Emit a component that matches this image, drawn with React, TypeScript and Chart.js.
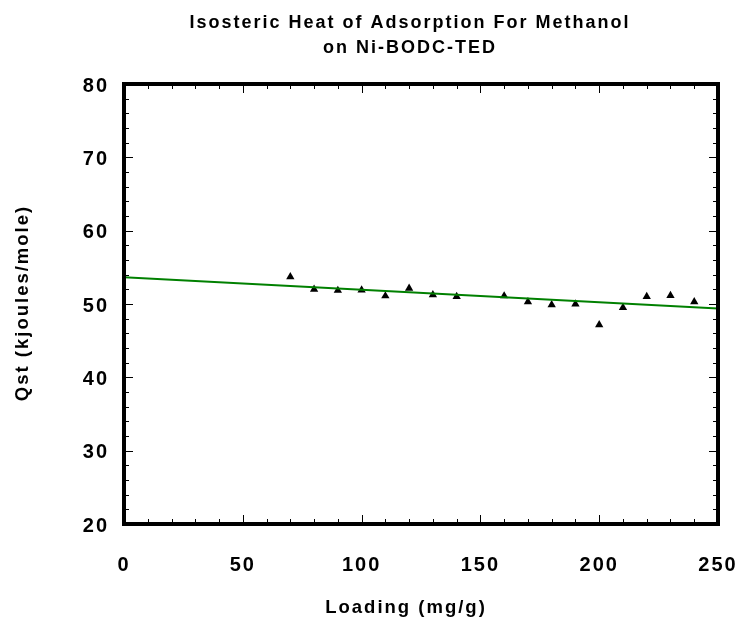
import React, { useEffect, useRef } from 'react';
import { Chart, registerables } from 'chart.js';

Chart.register(...registerables);

const titleLines = ['Isosteric Heat of Adsorption For Methanol', 'on Ni-BODC-TED'];
const xTitle = 'Loading (mg/g)';
const yTitle = 'Qst (kjoules/mole)';

const loading = [70, 80, 90, 100, 110, 120, 130, 140, 160, 170, 180, 190, 200, 210, 220, 230, 240];
const qst = [53.7, 52.0, 51.85, 51.9, 51.1, 52.15, 51.25, 51.0, 51.1, 50.3, 49.9, 50.0, 47.15, 49.5, 51.0, 51.15, 50.3];

const fitX = [0, 250];
const fitY = [53.65, 49.4];

const xMin = 0, xMax = 250, xMajor = 50, xMinor = 10;
const yMin = 20, yMax = 80, yMajor = 10, yMinor = 2;

const FONT = "'Liberation Sans', Arial, Helvetica, sans-serif";
const TITLE_CENTER_X = 410;
const X_TITLE_POS = { x: 405, y: 608 };
const Y_TITLE_POS = { x: 23, y: 304 };

const spacingPlugin = {
  id: 'letterSpacing',
  afterInit(chart: any) {
    chart.ctx.letterSpacing = '2px';
  },
  beforeUpdate(chart: any) {
    chart.ctx.letterSpacing = '2px';
  },
  afterLayout(chart: any) {
    const tb = chart.titleBlock;
    if (tb) {
      tb.left = 0;
      tb.right = TITLE_CENTER_X * 2;
    }
  },
  beforeDraw(chart: any) {
    chart.ctx.letterSpacing = '2px';
  },
};

const framePlugin = {
  id: 'frameTicks',
  afterDraw(chart: any) {
    const { ctx, chartArea } = chart;
    const { left, right, top, bottom } = chartArea;
    const xs = chart.scales.x;
    const ys = chart.scales.y;
    ctx.save();
    ctx.strokeStyle = '#000';
    ctx.lineWidth = 1;
    ctx.beginPath();
    for (let v = xMin; v <= xMax + 1e-9; v += xMinor) {
      const px = Math.round(xs.getPixelForValue(v)) + 0.5;
      const len = Math.abs(v % xMajor) < 1e-9 ? 9 : 5;
      ctx.moveTo(px, bottom);
      ctx.lineTo(px, bottom - len);
      ctx.moveTo(px, top);
      ctx.lineTo(px, top + len);
    }
    for (let v = yMin; v <= yMax + 1e-9; v += yMinor) {
      const py = Math.round(ys.getPixelForValue(v)) + 0.5;
      const len = Math.abs((v - yMin) % yMajor) < 1e-9 ? 9 : 5;
      ctx.moveTo(left, py);
      ctx.lineTo(left + len, py);
      ctx.moveTo(right, py);
      ctx.lineTo(right - len, py);
    }
    ctx.stroke();
    ctx.lineWidth = 4;
    ctx.strokeRect(left, top, right - left, bottom - top);

    // axis titles
    ctx.fillStyle = '#000';
    ctx.font = `bold 18.5px ${FONT}`;
    ctx.textAlign = 'center';
    ctx.textBaseline = 'middle';
    ctx.fillText(xTitle, X_TITLE_POS.x + 1, X_TITLE_POS.y);
    ctx.translate(Y_TITLE_POS.x, Y_TITLE_POS.y);
    ctx.rotate(-Math.PI / 2);
    ctx.fillText(yTitle, 1, 0);
    ctx.restore();
  },
};

export default function App() {
  const ref = useRef<HTMLCanvasElement | null>(null);
  useEffect(() => {
    if (!ref.current) return;
    const chart = new Chart(ref.current, {
      type: 'scatter',
      data: {
        datasets: [
          {
            type: 'line',
            label: 'Fit',
            data: fitX.map((x, i) => ({ x, y: fitY[i] })),
            borderColor: '#008000',
            borderWidth: 2,
            pointRadius: 0,
            fill: false,
          },
          {
            label: 'Qst',
            data: loading.map((x, i) => ({ x, y: qst[i] })),
            pointStyle: 'triangle',
            pointRadius: 4.8,
            backgroundColor: '#000',
            borderColor: '#000',
            borderWidth: 0,
          },
        ],
      },
      options: {
        animation: false,
        responsive: false,
        maintainAspectRatio: false,
        layout: { padding: { left: 0, right: 25, top: 0, bottom: 0 } },
        plugins: {
          legend: { display: false },
          tooltip: { enabled: false },
          title: {
            display: true,
            text: titleLines,
            color: '#000',
            font: { family: FONT, size: 18, weight: 'bold', lineHeight: 25 / 18 },
            padding: { top: 11, bottom: 23 },
          },
        },
        scales: {
          x: {
            type: 'linear',
            min: xMin,
            max: xMax,
            grid: { display: false, drawTicks: false },
            border: { display: false },
            ticks: {
              stepSize: xMajor,
              color: '#000',
              padding: 29,
              font: { family: FONT, size: 20, weight: 'bold' },
            },
            title: { display: false, text: xTitle },
            afterFit(scale: any) {
              scale.height = 99;
              scale.paddingLeft = 0;
              scale.paddingRight = 0;
            },
          },
          y: {
            type: 'linear',
            min: yMin,
            max: yMax,
            grid: { display: false, drawTicks: false },
            border: { display: false },
            ticks: {
              stepSize: yMajor,
              color: '#000',
              padding: 15,
              labelOffset: 2,
              font: { family: FONT, size: 20, weight: 'bold' },
            },
            title: { display: false, text: yTitle },
            afterFit(scale: any) {
              scale.width = 124;
              scale.paddingTop = 0;
              scale.paddingBottom = 0;
            },
          },
        },
      },
      plugins: [spacingPlugin, framePlugin],
    });
    return () => chart.destroy();
  }, []);
  return (
    <div style={{ position: 'fixed', left: 0, top: 0, width: 743, height: 623, background: '#fff' }}>
      <canvas ref={ref} width={743} height={623} style={{ width: 743, height: 623, display: 'block' }} />
    </div>
  );
}
